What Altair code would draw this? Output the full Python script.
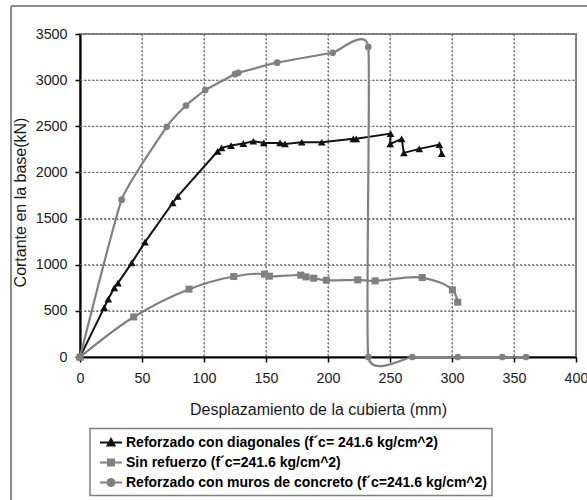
import altair as alt
import pandas as pd

# ---------------- data ----------------
series_names = [
    "Reforzado con diagonales (f´c= 241.6 kg/cm^2)",
    "Sin refuerzo (f´c=241.6 kg/cm^2)",
    "Reforzado con muros de concreto (f´c=241.6 kg/cm^2)",
]
series_colors = ["#111111", "#808080", "#808080"]

diag_x = [0, 19.5, 22.8, 27.7, 30.6, 41.7, 52.4, 74.7, 78.8, 111, 114.2, 121.8, 131.7,
          139.8, 148.2, 161.3, 165.3, 178.8, 194.9, 220.4, 222.8, 250.5, 250.2, 259.4,
          261.2, 273.6, 289.8, 291.7]
diag_y = [0, 535, 628, 750, 800, 1020, 1245, 1669, 1741, 2229, 2266, 2291, 2313,
          2338, 2320, 2320, 2309, 2327, 2327, 2364, 2364, 2421, 2309, 2364,
          2212, 2255, 2302, 2204]

sin_x = [0, 43.3, 87.9, 124, 148.8, 152.7, 178, 182.3, 188.5, 198.7, 224, 238, 276, 300.3, 304.6]
sin_y = [0, 434, 735, 872, 898, 876, 887, 868, 854, 832, 836, 825, 861, 727, 594]

muro_x = [0, 33.6, 69.9, 85.5, 101, 125, 127.7, 159, 203.8, 232.5, 232.5, 268, 304.6, 340.6, 359.7]
muro_y = [0, 1705, 2494, 2725, 2892, 3065, 3080, 3189, 3297, 3358, 0, 0, 0, 0, 0]

x_ticks = [0, 50, 100, 150, 200, 250, 300, 350, 400]
y_ticks = [0, 500, 1000, 1500, 2000, 2500, 3000, 3500]


def frame(xs, ys, name):
    return pd.DataFrame({"x": xs, "y": ys, "serie": name, "orden": list(range(len(xs)))})


d_diag = frame(diag_x, diag_y, series_names[0])
d_sin = frame(sin_x, sin_y, series_names[1])
d_muro = frame(muro_x, muro_y, series_names[2])
df_all = pd.concat([d_diag, d_sin, d_muro], ignore_index=True)

W, H = 496, 323
FONT = "Liberation Sans"
GRID = "#707070"

xscale = alt.Scale(domain=[0, 400], nice=False, zero=False)
yscale = alt.Scale(domain=[0, 3500], nice=False, zero=False)

x_axis = alt.Axis(
    values=x_ticks, format="d", title="Desplazamiento de la cubierta (mm)", grid=True,
    gridColor=GRID, gridDash=[2, 2], gridWidth=1, gridOpacity=1,
    domainColor="#000000", domainWidth=2.2, tickColor="#000000", tickSize=5, tickWidth=1.5,
    labelFont=FONT, labelFontSize=14.3, labelColor="#1a1a1a", labelPadding=9,
    labelFlush=False, labelOverlap=False,
    titleFont=FONT, titleFontSize=16, titleFontWeight="normal", titleColor="#1a1a1a",
    titleX=238, titleY=52, titleAlign="center", titleBaseline="middle",
)
y_axis = alt.Axis(
    values=y_ticks, format="d", title="Cortante en la base(kN)", grid=True,
    gridColor=GRID, gridDash=[2, 2], gridWidth=1, gridOpacity=1,
    domainColor="#000000", domainWidth=2.2, tickColor="#000000", tickSize=5, tickWidth=1.5,
    labelFont=FONT, labelFontSize=14.3, labelColor="#1a1a1a", labelPadding=8,
    labelOverlap=False,
    titleFont=FONT, titleFontSize=16, titleFontWeight="normal", titleColor="#1a1a1a",
    titleX=-60, titleY=168, titleAlign="center", titleBaseline="middle", titleAngle=270,
)

X = alt.X("x:Q", scale=xscale, axis=x_axis)
Y = alt.Y("y:Q", scale=yscale, axis=y_axis)
ORD = alt.Order("orden:Q")

# gridlines drawn from the tick lists through the scales
grid_v = alt.Chart(pd.DataFrame({"x": x_ticks[1:]})).mark_rule(
    color=GRID, strokeWidth=1, strokeDash=[2, 2]
).encode(x=X, y=alt.value(0), y2=alt.value(H))
grid_h = alt.Chart(pd.DataFrame({"y": y_ticks[1:]})).mark_rule(
    color=GRID, strokeWidth=1, strokeDash=[2, 2]
).encode(y=Y, x=alt.value(0), x2=alt.value(W))

# outer chart frame (decoration): two visible edges (top and left)
frame_top = alt.Chart(pd.DataFrame({"a": [0]})).mark_rule(
    color="#8c8c8c", strokeWidth=2
).encode(x=alt.value(-69), x2=alt.value(520), y=alt.value(-28))
frame_left = alt.Chart(pd.DataFrame({"a": [0]})).mark_rule(
    color="#8c8c8c", strokeWidth=2
).encode(x=alt.value(-69), y=alt.value(-28), y2=alt.value(480))

base_diag = alt.Chart(d_diag)
base_sin = alt.Chart(d_sin)
base_muro = alt.Chart(d_muro)

line_diag = base_diag.mark_line(color=series_colors[0], strokeWidth=2).encode(x=X, y=Y, order=ORD)
pts_diag = base_diag.mark_point(shape="triangle-up", filled=True, color=series_colors[0],
                                size=60, opacity=1).encode(x=X, y=Y)

line_sin = base_sin.mark_line(color=series_colors[1], strokeWidth=2.2,
                              interpolate="catmull-rom").encode(x=X, y=Y, order=ORD)
pts_sin = base_sin.mark_point(shape="square", filled=True, color=series_colors[1],
                              size=50, opacity=1).encode(x=X, y=Y)

line_muro = base_muro.mark_line(color=series_colors[2], strokeWidth=2.2,
                                interpolate="cardinal", tension=0.6).encode(x=X, y=Y, order=ORD)
pts_muro = base_muro.mark_point(shape="circle", filled=True, color=series_colors[2],
                                size=45, opacity=1).encode(x=X, y=Y)

# legend symbols: line with marker (custom paths, unit = sqrt(size)/2)
legend_paths = [
    "M-0.5,0L2.25,0M0.44,0.36L0.875,-0.42L1.31,0.36Z",
    "M-0.5,0L2.25,0M0.5,-0.375H1.25V0.375H0.5Z",
    "M-0.5,0L2.25,0M0.44,0A0.435,0.435,0,1,0,1.31,0A0.435,0.435,0,1,0,0.44,0Z",
]
leg = alt.Legend(
    title=None, orient="none", legendX=10, legendY=394.5, direction="vertical",
    labelFont=FONT, labelFontSize=14, labelFontWeight="bold", labelColor="#000000",
    strokeColor="#808080", fillColor="#ffffff", padding=5, symbolSize=256,
    symbolStrokeWidth=2, rowPadding=4, labelOffset=13, labelLimit=600,
)
legend_layer = alt.Chart(df_all).transform_filter("false").mark_point(
    filled=True, opacity=1
).encode(
    x=X, y=Y,
    fill=alt.Fill("serie:N", scale=alt.Scale(domain=series_names, range=series_colors), legend=leg),
    stroke=alt.Stroke("serie:N", scale=alt.Scale(domain=series_names, range=series_colors), legend=leg),
    shape=alt.Shape("serie:N", scale=alt.Scale(domain=series_names, range=legend_paths), legend=leg),
)

chart = alt.layer(
    frame_top, frame_left, grid_v, grid_h,
    line_diag, pts_diag, line_sin, pts_sin, line_muro, pts_muro, legend_layer
).properties(
    width=W, height=H,
    autosize=alt.AutoSizeParams(type="none"),
    padding={"left": 80, "top": 34, "right": 11, "bottom": 143},
    background="#ffffff",
).configure_view(
    stroke="#8a8a8a", strokeWidth=2
).configure_legend(
    strokeWidth=1.5
)

chart.save("out.html", embed_options={"renderer": "svg", "actions": False})
